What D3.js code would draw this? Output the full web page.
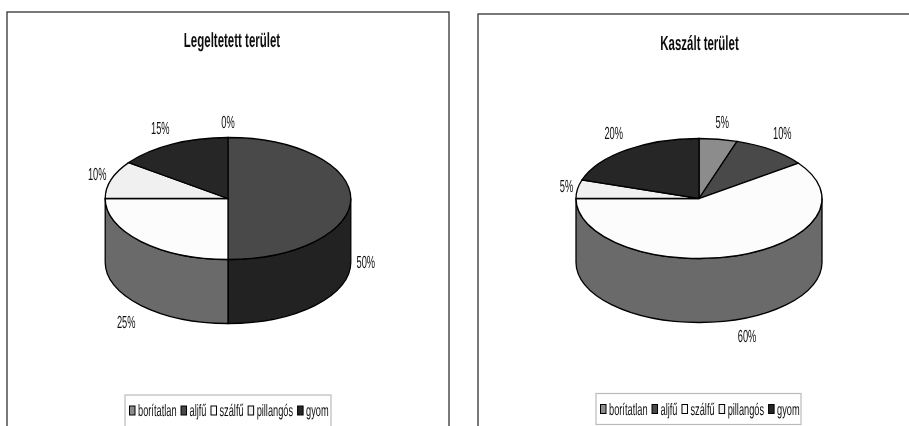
<!DOCTYPE html>
<html>
<head>
<meta charset="utf-8">
<script src="https://cdn.jsdelivr.net/npm/d3@7.9.0/dist/d3.min.js"></script>
<style>
    html, body { margin: 0; padding: 0; background: #fff; overflow: hidden; }
    text { font-family: "Liberation Sans", Arial, sans-serif; fill: #111; text-rendering: geometricPrecision; }
</style>
</head>
<body>
<svg width="909" height="426"></svg>
<script>
const categories = ["borítatlan", "aljfű", "szálfű", "pillangós", "gyom"];
const grazedValues = [0, 50, 25, 10, 15];
const mownValues = [5, 10, 60, 5, 20];
const titles = ["Legeltetett terület", "Kaszált terület"];

const topColors = ["#8c8c8c", "#484848", "#fcfcfc", "#f0f0f0", "#262626"];
const sideColors = ["#5e5e5e", "#222222", "#6a6a6a", "#a8a8a8", "#191919"];

const svg = d3.select("svg");

svg.append("defs").append("filter").attr("id", "soft")
    .append("feGaussianBlur").attr("stdDeviation", 0.4);
const root = svg.append("g").attr("filter", "url(#soft)");

const charts = [
    {
        values: grazedValues, title: titles[0],
        frame: [7, 12, 442, 430],
        cx: 228, cy: 198.5, rx: 122.8, ry: 61, depth: 64, titleX: 232, titleY: 47,
        labelOffsets: [[0, -16], [15, 63], [-15, 80], [-14, -6], [-12, -16]],
        legend: [125, 395, 206, 40]
    },
    {
        values: mownValues, title: titles[1],
        frame: [478, 14, 440, 430],
        cx: 699, cy: 198.5, rx: 123, ry: 60, depth: 64, titleX: 699.5, titleY: 50,
        labelOffsets: [[4, -17], [11, -17], [10, 80], [-11, -3], [-13, -17]],
        legend: [596, 393.5, 205, 31]
    }
];

// condensed text: the reference font is squeezed horizontally
function addText(sel, x, y, str, size, squeeze, weight, anchor) {
    return sel.append("text")
        .attr("transform", `translate(${x},${y}) scale(${squeeze},1)`)
        .attr("text-anchor", anchor || "middle")
        .attr("font-size", size)
        .attr("font-weight", weight || "normal")
        .text(str);
}

function drawChart(c) {
    const g = root.append("g");
    const [fx, fy, fw, fh] = c.frame;
    g.append("rect").attr("x", fx).attr("y", fy).attr("width", fw).attr("height", fh)
        .attr("fill", "#fff").attr("stroke", "#333").attr("stroke-width", 1.3);

    addText(g, c.titleX, c.titleY, c.title, 20.5, 0.56, "bold");

    const arcs = d3.pie().sort(null).value(d => d)(c.values);
    const px = a => c.cx + c.rx * Math.sin(a);
    const py = a => c.cy - c.ry * Math.cos(a);

    // side wall: only the part of each slice on the front half
    arcs.forEach((d, i) => {
        const a0 = Math.max(d.startAngle, Math.PI / 2);
        const a1 = Math.min(d.endAngle, Math.PI * 1.5);
        if (a1 <= a0) return;
        const wall = `M${px(a0)},${py(a0)}`
            + `A${c.rx},${c.ry} 0 0 1 ${px(a1)},${py(a1)}`
            + `L${px(a1)},${py(a1) + c.depth}`
            + `A${c.rx},${c.ry} 0 0 0 ${px(a0)},${py(a0) + c.depth}Z`;
        g.append("path").attr("d", wall).attr("fill", sideColors[i])
            .attr("stroke", "#000").attr("stroke-width", 1.3);
    });

    // top face: circular arc squashed into an ellipse
    const arc = d3.arc().innerRadius(0).outerRadius(c.rx);
    g.append("g")
        .attr("transform", `translate(${c.cx},${c.cy}) scale(1,${c.ry / c.rx})`)
        .selectAll("path")
        .data(arcs)
        .join("path")
        .attr("d", arc)
        .attr("fill", (d, i) => topColors[i])
        .attr("stroke", "#000")
        .attr("stroke-width", 1.3)
        .attr("vector-effect", "non-scaling-stroke");

    arcs.forEach((d, i) => {
        const mid = (d.startAngle + d.endAngle) / 2;
        const [ox, oy] = c.labelOffsets[i];
        addText(g, px(mid) + ox, py(mid) + oy + 6, c.values[i] + "%", 17.5, 0.53);
    });

    // legend
    const [lx, ly, lw, lh] = c.legend;
    const lg = g.append("g");
    lg.append("rect").attr("x", lx).attr("y", ly).attr("width", lw).attr("height", lh)
        .attr("fill", "#fff").attr("stroke", "#bbb").attr("stroke-width", 1.2);
    const squeeze = 0.56;
    let x = lx + 4.5;
    const ty = ly + 21;
    categories.forEach((name, i) => {
        lg.append("rect").attr("x", x).attr("y", ty - 10).attr("width", 5.5).attr("height", 9)
            .attr("fill", topColors[i]).attr("stroke", "#000").attr("stroke-width", 1);
        const t = addText(lg, x + 8.5, ty, name, 16.5, squeeze, "normal", "start");
        x += 8.5 + t.node().getComputedTextLength() * squeeze + 4.5;
    });
}

charts.forEach(drawChart);
</script>
</body>
</html>
